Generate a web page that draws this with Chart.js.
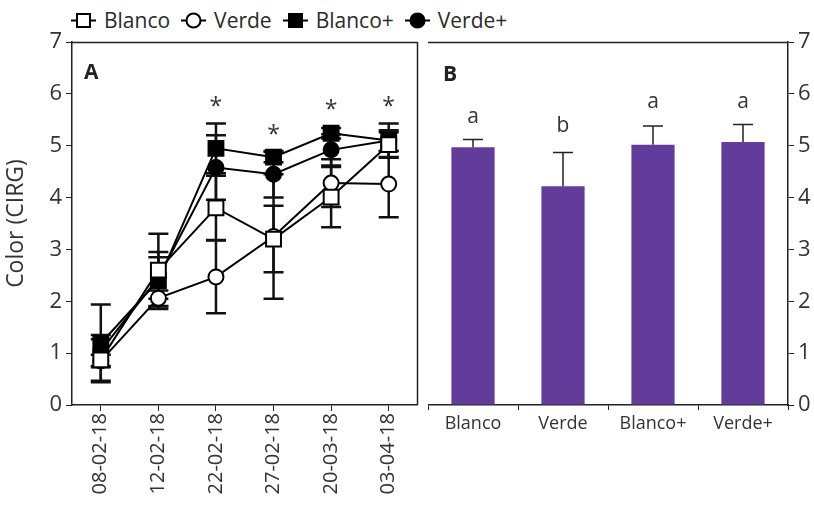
<!DOCTYPE html>
<html>
<head>
<meta charset="utf-8">
<script src="https://cdn.jsdelivr.net/npm/chart.js@4.4.1/dist/chart.umd.min.js"></script>
<style>
html, body { margin: 0; padding: 0; background: #fff; overflow: hidden; width: 814px; height: 507px; }
#wrap { position: relative; width: 814px; height: 507px; overflow: hidden; }
#cA { position: absolute; left: 0; top: 0; }
#cB { position: absolute; left: 428px; top: 0; }
#legend { position: absolute; left: 70px; top: 6px; display: flex; align-items: center;
  font: 21px "Open Sans", sans-serif; color: #2a2a2a; white-space: nowrap; }
#legend span { margin: 0 10px 0 7px; }
#legend svg { display: block; }
</style>
</head>
<body>
<div id="wrap">
  <div id="legend"></div>
  <canvas id="cA" width="430" height="507"></canvas>
  <canvas id="cB" width="400" height="507"></canvas>
</div>
<script>
// panel A: colour over time
const dates = ["08-02-18", "12-02-18", "22-02-18", "27-02-18", "20-03-18", "03-04-18"];
const blanco = [0.87, 2.6, 3.8, 3.2, 4.01, 5.02];
const verde = [0.85, 2.06, 2.47, 3.25, 4.28, 4.26];
const blancoPlus = [1.19, 2.4, 4.95, 4.78, 5.24, 5.1];
const verdePlus = [1.05, 2.45, 4.58, 4.45, 4.92, 5.1];
const blancoErr = [0.4, 0.7, 0.62, 0.64, 0.58, 0.24];
const verdeErr = [0.12, 0.15, 0.7, 1.2, 0.46, 0.64];
const blancoPlusErr = [0.75, 0.55, 0.48, 0.1, 0.1, 0.33];
const verdePlusErr = [0.3, 0.4, 0.62, 0.45, 0.3, 0.2];
const starIdx = [2, 3, 4, 5];
const starY = [5.88, 5.34, 5.82, 5.88];

// panel B: means per treatment
const treatments = ["Blanco", "Verde", "Blanco+", "Verde+"];
const means = [4.97, 4.22, 5.02, 5.07];
const meansErr = [0.15, 0.65, 0.36, 0.34];
const letters = ["a", "b", "a", "a"];
const letterY = [5.55, 5.38, 5.84, 5.84];

const FONT = '"Open Sans", sans-serif';
const INK = '#222';
const TXT = '#333';

// legend
const legendItems = [
	{label: "Blanco", shape: "rect", fill: "#fff"},
	{label: "Verde", shape: "circle", fill: "#fff"},
	{label: "Blanco+", shape: "rect", fill: "#000"},
	{label: "Verde+", shape: "circle", fill: "#000"}
];
let lg = document.getElementById("legend");
for (let it of legendItems) {
	let m = it.shape == "rect"
		? '<rect x="7" y="5" width="13" height="13" fill="' + it.fill + '" stroke="#000" stroke-width="2"/>'
		: '<circle cx="13.5" cy="11.5" r="7" fill="' + it.fill + '" stroke="#000" stroke-width="2"/>';
	lg.insertAdjacentHTML("beforeend",
		'<svg width="27" height="23"><line x1="1" y1="11.5" x2="26" y2="11.5" stroke="#000" stroke-width="2"/>' + m + '</svg>' +
		'<span>' + it.label + '</span>');
}

const errorBars = {
	id: 'errorBars',
	beforeDatasetsDraw(chart, args, opts) {
		const {ctx, scales: {x, y}} = chart;
		ctx.save();
		ctx.strokeStyle = opts.color;
		ctx.lineWidth = opts.width;
		chart.data.datasets.forEach((ds) => {
			if (!ds.errors) return;
			ds.errors.forEach((e, j) => {
				let cx = x.getPixelForValue(j);
				let yt = y.getPixelForValue(ds.data[j] + e);
				let yb = y.getPixelForValue(opts.upOnly ? ds.data[j] : ds.data[j] - e);
				ctx.beginPath();
				ctx.moveTo(cx, yt); ctx.lineTo(cx, yb);
				ctx.moveTo(cx - opts.cap, yt); ctx.lineTo(cx + opts.cap, yt);
				if (!opts.upOnly) { ctx.moveTo(cx - opts.cap, yb); ctx.lineTo(cx + opts.cap, yb); }
				ctx.stroke();
			});
		});
		ctx.restore();
	}
};

const frame = {
	id: 'frame',
	afterDraw(chart, args, opts) {
		const {ctx, chartArea: a, scales: {x, y}} = chart;
		ctx.save();
		ctx.strokeStyle = INK;
		ctx.lineWidth = 1.5;
		ctx.beginPath();
		ctx.moveTo(a.left, a.top + 0.5); ctx.lineTo(a.right, a.top + 0.5);
		if (opts.divider) { ctx.moveTo(a.right, a.top); ctx.lineTo(a.right, a.bottom); }
		ctx.stroke();
		// panel letter
		ctx.fillStyle = INK;
		ctx.font = 'bold 21px ' + FONT;
		ctx.textBaseline = 'middle';
		ctx.fillText(opts.panel, a.left + opts.panelDx, a.top + opts.panelDy);
		// marks above points / bars
		ctx.fillStyle = TXT;
		ctx.font = opts.markFont;
		ctx.textAlign = 'center';
		opts.markIdx.forEach((i, k) => {
			ctx.fillText(opts.marks[k], x.getPixelForValue(i), y.getPixelForValue(opts.markY[k]) + opts.markDy);
		});
		ctx.restore();
	}
};

function pointSet(label, data, errors, style, fill, radius, order) {
	return {
		label: label, data: data, errors: errors, order: order,
		borderColor: '#000', borderWidth: 2,
		pointStyle: style, pointRadius: radius, pointHoverRadius: radius,
		pointBackgroundColor: fill, pointBorderColor: '#000', pointBorderWidth: 2
	};
}

const tickFont = {family: FONT, size: 22};

new Chart(document.getElementById("cA"), {
	type: 'line',
	data: {
		labels: dates,
		datasets: [
			pointSet("Blanco", blanco, blancoErr, 'rect', '#fff', 10.5, 1),
			pointSet("Verde", verde, verdeErr, 'circle', '#fff', 7.5, 2),
			pointSet("Blanco+", blancoPlus, blancoPlusErr, 'rect', '#000', 10.5, 3),
			pointSet("Verde+", verdePlus, verdePlusErr, 'circle', '#000', 7.5, 4)
		]
	},
	options: {
		responsive: false,
		animation: false,
		layout: {padding: {top: 42, right: 2, left: 0, bottom: 0}},
		plugins: {
			legend: {display: false},
			tooltip: {enabled: false},
			errorBars: {color: '#111', width: 2.5, cap: 10, upOnly: false},
			frame: {divider: true, panel: "A", panelDx: 12, panelDy: 31, marks: starIdx.map(() => "*"), markIdx: starIdx, markY: starY, markDy: 7, markFont: '23px ' + FONT}
		},
		scales: {
			x: {
				offset: true,
				grid: {drawOnChartArea: false, drawTicks: true, tickLength: 6, color: INK},
				border: {color: INK, width: 1.5},
				ticks: {color: TXT, font: {family: FONT, size: 20}, minRotation: 90, maxRotation: 90, padding: 2},
				afterFit: s => { s.height = 102; }
			},
			y: {
				min: 0, max: 7,
				grid: {drawOnChartArea: false, drawTicks: true, tickLength: 6, color: INK},
				border: {color: INK, width: 1.5},
				ticks: {stepSize: 1, color: TXT, font: tickFont, padding: 4},
				title: {display: true, text: "Color (CIRG)", color: TXT, font: {family: FONT, size: 23}, padding: {top: 3, bottom: 0}},
				afterFit: s => { s.width = 72; }
			}
		}
	},
	plugins: [errorBars, frame]
});

new Chart(document.getElementById("cB"), {
	type: 'bar',
	data: {
		labels: treatments,
		datasets: [{
			data: means, errors: meansErr,
			backgroundColor: '#613c9b',
			barPercentage: 0.48, categoryPercentage: 1
		}]
	},
	options: {
		responsive: false,
		animation: false,
		layout: {padding: {top: 42, right: 0, left: 0, bottom: 0}},
		plugins: {
			legend: {display: false},
			tooltip: {enabled: false},
			errorBars: {color: '#222', width: 1.5, cap: 10, upOnly: true},
			frame: {divider: false, panel: "B", panelDx: 15, panelDy: 33, marks: letters, markIdx: [0, 1, 2, 3], markY: letterY, markDy: 0, markFont: '21px ' + FONT}
		},
		scales: {
			x: {
				grid: {drawOnChartArea: false, drawTicks: true, tickLength: 5, color: INK},
				border: {color: INK, width: 1.5},
				ticks: {color: TXT, font: {family: FONT, size: 18}, padding: 3, maxRotation: 0},
				afterFit: s => { s.height = 102; }
			},
			y: {
				position: 'right',
				min: 0, max: 7,
				grid: {drawOnChartArea: false, drawTicks: true, tickLength: 6, color: INK},
				border: {color: INK, width: 1.5},
				ticks: {stepSize: 1, color: TXT, font: tickFont, padding: 4},
				afterFit: s => { s.width = 40; }
			}
		}
	},
	plugins: [errorBars, frame]
});
</script>
</body>
</html>
